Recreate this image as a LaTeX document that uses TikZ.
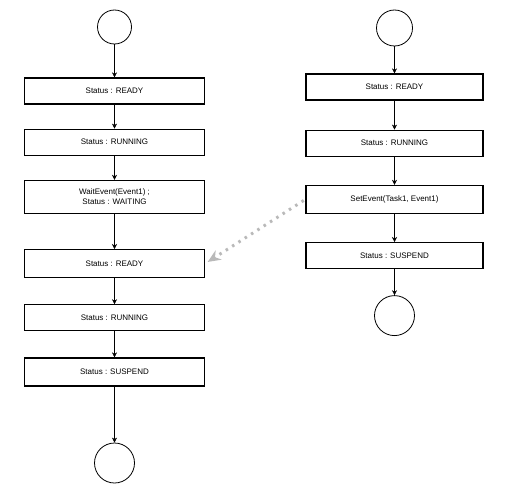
\documentclass[tikz,border=0pt]{standalone}
\usepackage{fontspec}
\setmainfont{Liberation Sans}
\usetikzlibrary{positioning,arrows.meta}

\begin{document}
\begin{tikzpicture}[
	x=1pt, y=-1pt,
	>={Stealth[length=5pt,width=5pt]},
	bstyle/.style={rectangle, draw=black, line width=1.2pt, fill=white,
	minimum width=180pt, minimum height=26pt, inner sep=1pt,
	align=center, font=\fontsize{8}{10}\selectfont},
	cstyle/.style={circle, draw=black, line width=0.8pt, inner sep=0pt}
	]
	\useasboundingbox (0,0) rectangle (521,487);

	% left task
	\node[cstyle, minimum size=34pt] (start1) at (114.5,27) {};
	\node[bstyle] (ready1) [below=33pt of start1] {Status : READY};
	\node[bstyle] (run1) [below=24pt of ready1] {Status : RUNNING};
	\node[bstyle, minimum height=33pt] (wait1) [below=24pt of run1] {WaitEvent(Event1) ;\\Status : WAITING};
	\node[bstyle, minimum height=28pt] (ready2) [below=35pt of wait1] {Status : READY};
	\node[bstyle] (run2) [below=26pt of ready2] {Status : RUNNING};
	\node[bstyle, minimum height=28pt] (susp1) [below=26pt of run2] {Status : SUSPEND};
	\node[cstyle, minimum size=40pt] (end1) [below=56pt of susp1] {};

	% right task
	\node[cstyle, minimum size=36pt] (start2) at (394.5,28) {};
	\node[bstyle, minimum width=177pt] (ready3) [below=27pt of start2] {Status : READY};
	\node[bstyle, minimum width=177pt] (run3) [below=29pt of ready3] {Status : RUNNING};
	\node[bstyle, minimum width=177pt, minimum height=28pt] (set1) [below=28pt of run3] {SetEvent(Task1, Event1)};
	\node[bstyle, minimum width=177pt] (susp2) [below=28pt of set1] {Status : SUSPEND};
	\node[cstyle, minimum size=40pt] (end2) [below=26pt of susp2] {};

	\draw[->] (start1.south) to (ready1.north);
	\draw[->] (ready1.south) to (run1.north);
	\draw[->] (run1.south) to (wait1.north);
	\draw[->] (wait1.south) to (ready2.north);
	\draw[->] (ready2.south) to (run2.north);
	\draw[->] (run2.south) to (susp1.north);
	\draw[->] (susp1.south) to (end1.north);

	\draw[->] (start2.south) to (ready3.north);
	\draw[->] (ready3.south) to (run3.north);
	\draw[->] (run3.south) to (set1.north);
	\draw[->] (set1.south) to (susp2.north);
	\draw[->] (susp2.south) to (end2.north);

	% event sent to the waiting task
	\draw[-{Stealth[length=13pt,width=11pt]}, gray!55, line width=3pt,
	dash pattern=on 2.5pt off 5pt, shorten <=2pt, shorten >=3pt]
	(set1.west) to (ready2.east);
\end{tikzpicture}
\end{document}
